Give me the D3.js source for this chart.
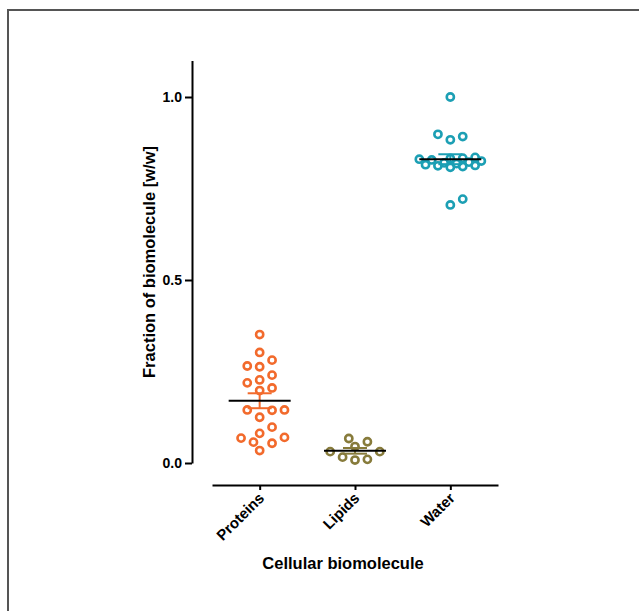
<!DOCTYPE html>
<html>
<head>
<meta charset="utf-8">
<script src="https://cdn.jsdelivr.net/npm/d3@7"></script>
<style>
  body { margin: 0; background: #fff; }
  svg { display: block; font-family: Arial, "Liberation Sans", sans-serif; }
</style>
</head>
<body>
<svg id="chart" width="639" height="611"></svg>
<script>
const categories = ['Proteins', 'Lipids', 'Water'];
const colors = ['#f26a2c', '#877b3b', '#1c9fb4'];

const proteins = [0.351, 0.302, 0.281, 0.265, 0.263, 0.240, 0.227, 0.219, 0.205, 0.198,
                  0.144, 0.145, 0.145, 0.125, 0.098, 0.081, 0.070, 0.068, 0.057, 0.054, 0.034];
const lipids = [0.031, 0.058, 0.016, 0.045, 0.008, 0.067, 0.010, 0.031];
const water = [1.0, 0.898, 0.883, 0.892, 0.705, 0.721,
               0.835, 0.833, 0.832, 0.830, 0.828, 0.825, 0.822, 0.820,
               0.818, 0.815, 0.813, 0.812, 0.810, 0.808];
const yTicks = [0, 0.5, 1.0];

const series = [proteins, lipids, water];

const svg = d3.select('#chart');

// frame
svg.append('rect')
  .attr('x', 8).attr('y', 10)
  .attr('width', 700).attr('height', 700)
  .attr('fill', 'none').attr('stroke', '#555').attr('stroke-width', 2);

const y = d3.scaleLinear().domain([0, 1.1]).range([463, 60.4]);
const x = d3.scalePoint().domain(categories).range([212, 498]).padding(0.5);

/* Axes */
const yAxis = d3.axisLeft(y).tickValues(yTicks).tickFormat(d3.format('.1f')).tickSize(7).tickSizeOuter(0);
const gy = svg.append('g').attr('transform', 'translate(192,0)').call(yAxis);
gy.select('.domain').attr('stroke', '#000').attr('stroke-width', 2);
gy.selectAll('.tick line').attr('stroke', '#000').attr('stroke-width', 2);
gy.selectAll('.tick text').attr('font-size', 14).attr('font-weight', 'bold').attr('fill', '#000').attr('x', -10);

const xAxis = d3.axisBottom(x).tickSize(5).tickSizeOuter(0);
const gx = svg.append('g').attr('transform', 'translate(0,485)').call(xAxis);
gx.select('.domain').attr('stroke', '#000').attr('stroke-width', 2);
gx.selectAll('.tick line').attr('stroke', '#000').attr('stroke-width', 2);
gx.selectAll('.tick text')
  .attr('font-size', 15).attr('font-weight', 'bold').attr('fill', '#000')
  .attr('text-anchor', 'end')
  .attr('dy', 0).attr('y', 0)
  .attr('transform', 'translate(5,14) rotate(-45)');

svg.append('text')
  .attr('x', 343).attr('y', 569)
  .attr('text-anchor', 'middle')
  .attr('font-size', 16.5).attr('font-weight', 'bold')
  .text('Cellular biomolecule');

svg.append('text')
  .attr('transform', 'translate(155,262) rotate(-90)')
  .attr('text-anchor', 'middle')
  .attr('font-size', 16.5).attr('font-weight', 'bold')
  .text('Fraction of biomolecule [w/w]');

/* scatter offsets: grid of half steps, limited width, overlap allowed when full */
function swarm(values, step, diam, maxSteps) {
  const pts = values.map(v => ({v: v, py: y(v)})).sort((a, b) => b.py - a.py);
  const placed = [];
  const cand = [0];
  for (let k = 1; k <= maxSteps; k++) cand.push(k * step, -k * step);
  pts.forEach(p => {
    let best = 0, bestDist = -1;
    for (const off of cand) {
      const dmin = placed.length ? d3.min(placed, q => Math.hypot(q.off - off, q.py - p.py)) : Infinity;
      if (dmin >= diam) { best = off; bestDist = Infinity; break; }
      if (dmin > bestDist) { bestDist = dmin; best = off; }
    }
    p.off = best;
    placed.push(p);
  });
  return placed;
}

series.forEach((vals, i) => {
  const cx = x(categories[i]);
  const pts = swarm(vals, 6.2, 10, 5);
  const g = svg.append('g');
  g.selectAll('circle').data(pts).enter()
    .append('circle')
    .attr('cx', d => cx + d.off)
    .attr('cy', d => d.py)
    .attr('r', 3.6)
    .attr('fill', 'none')
    .attr('stroke', colors[i])
    .attr('stroke-width', 2.6);

  const mean = d3.mean(vals);
  const sem = d3.deviation(vals) / Math.sqrt(vals.length);
  // error bar
  g.append('line').attr('x1', cx).attr('x2', cx).attr('y1', y(mean - sem)).attr('y2', y(mean + sem))
    .attr('stroke', colors[i]).attr('stroke-width', 2);
  [mean - sem, mean + sem].forEach(v => {
    g.append('line').attr('x1', cx - 12).attr('x2', cx + 12).attr('y1', y(v)).attr('y2', y(v))
      .attr('stroke', colors[i]).attr('stroke-width', 2);
  });
  // mean line
  g.append('line').attr('x1', cx - 31).attr('x2', cx + 31).attr('y1', y(mean)).attr('y2', y(mean))
    .attr('stroke', '#000').attr('stroke-width', 2);
});
</script>
</body>
</html>
